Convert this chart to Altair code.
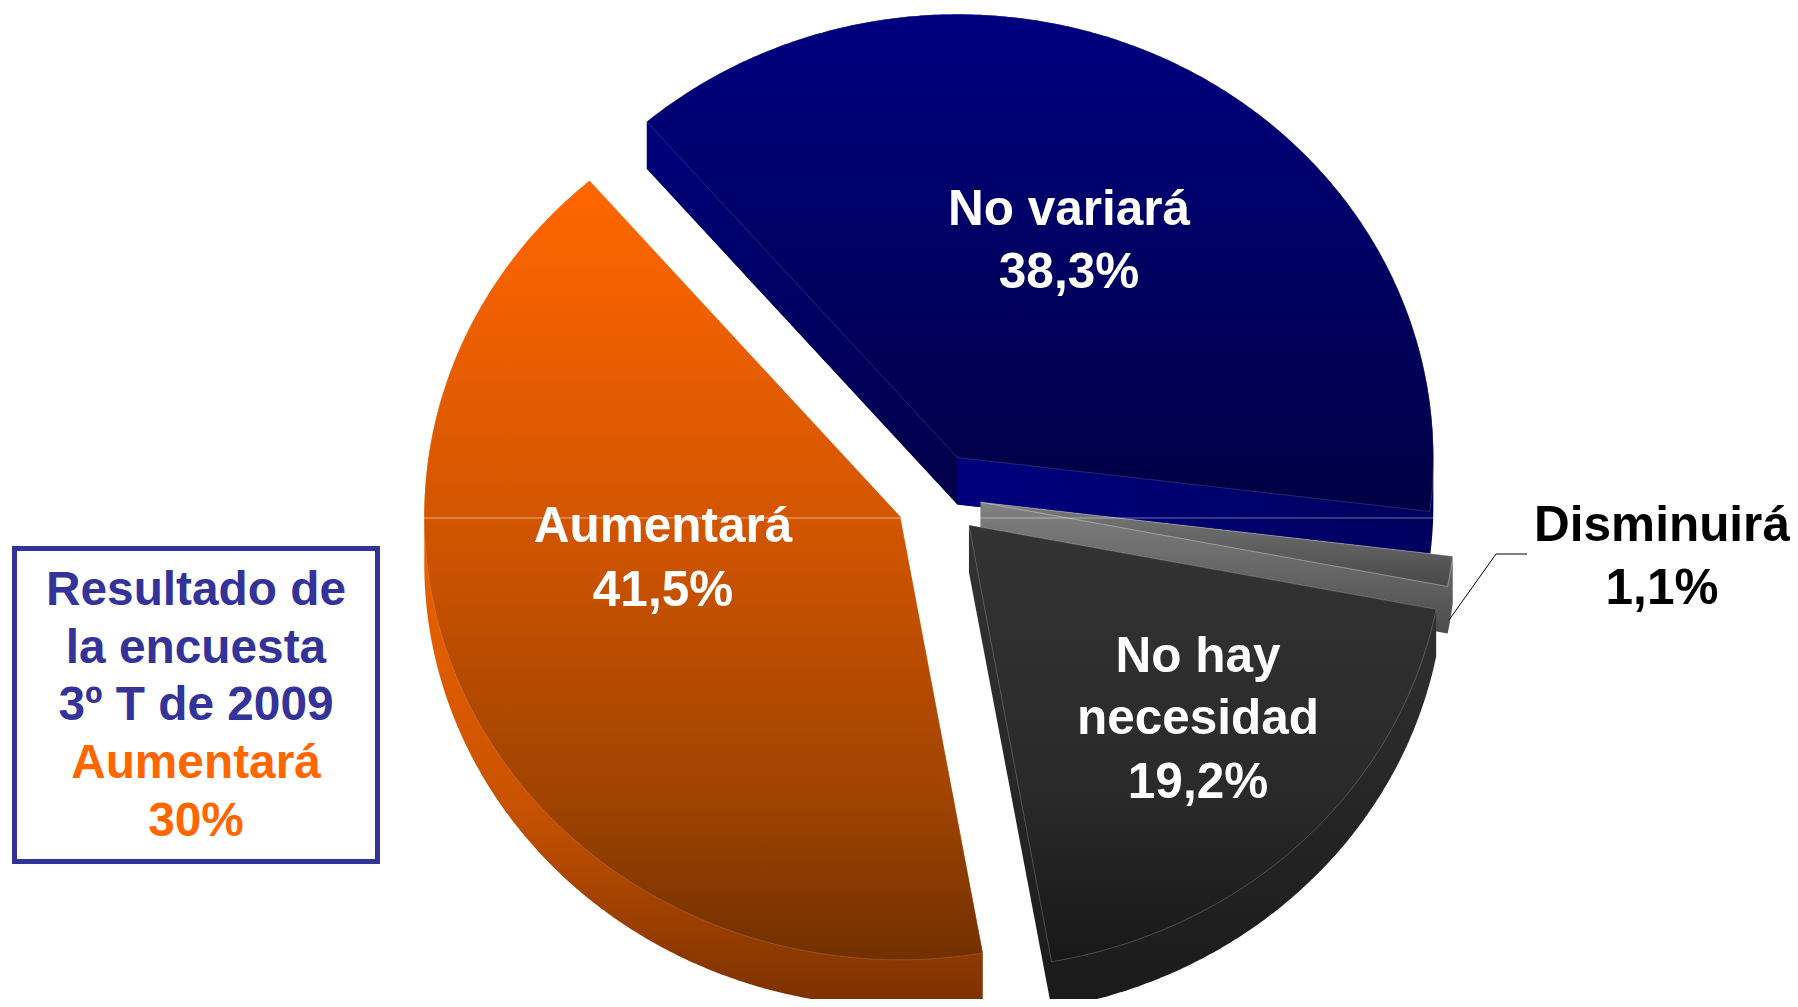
import numpy as np
import pandas as pd
import altair as alt

# --- values ---
labels = ["Aumentará", "No variará", "Disminuirá", "No hay necesidad"]
shares = [41.5, 38.3, 1.1, 19.2]
share_text = ["41,5%", "38,3%", "1,1%", "19,2%"]
box_lines = ["Resultado de", "la encuesta", "3º T de 2009", "Aumentará", "30%"]

# --- layout (page pixels) ---
W, H = 1782, 991
M = 8
k = 1798 / 1568
RX, RY, DEPTH = 415 * k, 386.5 * k, 41 * k
centers = [(785 * k, 450.5 * k), (835 * k, 399 * k), (855 * k, 438 * k), (845 * k, 458 * k)]
START_DEG = 170.0


def grad(stops, horizontal=False):
    return alt.Gradient(
        gradient="linear", x1=0, x2=1 if horizontal else 0, y1=0, y2=0 if horizontal else 1,
        stops=[alt.GradientStop(color=c, offset=o) for o, c in stops],
    )


top_fill = [
    grad([(0, "#ff6600"), (0.16, "#f06000"), (0.44, "#d25500"), (0.8, "#9e4300"), (1, "#723000")]),
    grad([(0, "#000080"), (1, "#000044")]),
    grad([(0, "#7a7a7a"), (1, "#484848")]),
    grad([(0, "#333333"), (0.6, "#2a2a2a"), (1, "#181818")]),
]
side_fill = [
    grad([(0, "#ff6e00"), (0.576, "#e05c00"), (0.757, "#c85200"), (0.83, "#b04800"), (1, "#7a3000")]),
    grad([(0, "#00006a"), (1, "#00005e")]),
    grad([(0, "#828282"), (1, "#4c4c4c")]),
    grad([(0, "#333333"), (0.3, "#2d2d2d"), (1, "#1a1a1a")]),
]
blue_left_face = grad([(0, "#00007c"), (1, "#000048")])
blue_right_face = grad([(0, "#00007e"), (1, "#00005e")], horizontal=True)
edge_opacity = [0.2, 0.22, 0.5, 0.3]


def hull(points):
    pts = sorted(set(points))

    def half(seq):
        out = []
        for p in seq:
            while len(out) >= 2 and (
                (out[-1][0] - out[-2][0]) * (p[1] - out[-2][1])
                - (out[-1][1] - out[-2][1]) * (p[0] - out[-2][0])
            ) <= 0:
                out.pop()
            out.append(p)
        return out[:-1]

    return half(pts) + half(pts[::-1])


x_scale = alt.Scale(domain=[0, W / RX], range=[0, W], nice=False, zero=False)
y_scale = alt.Scale(domain=[0, H / RY], range=[0, H], nice=False, zero=False)


def poly_layer(points, fill, edge=0.0):
    df = pd.DataFrame(points, columns=["x", "y"])
    df["i"] = range(len(df))
    style = dict(stroke="#ffffff", strokeWidth=0.7, strokeOpacity=edge) if edge else dict(strokeWidth=0, stroke=None)
    return alt.Chart(df).mark_line(fill=fill, clip=True, interpolate="linear-closed", **style).encode(
        x=alt.X("x:Q", scale=x_scale, axis=None),
        y=alt.Y("y:Q", scale=y_scale, axis=None),
        order="i:O",
    )


layers = []
total = sum(shares)
a0 = START_DEG
for i, s in enumerate(shares):
    a1 = a0 + s / total * 360
    th = np.radians(np.linspace(a0, a1, int((a1 - a0) * 2) + 2))
    cx, cy = (centers[i][0] - M) / RX, (centers[i][1] - M) / RY
    rim = [(float(cx + np.sin(t)), float(cy - np.cos(t))) for t in th]
    wedge = [(cx, cy)] + rim
    d = DEPTH / RY
    swept = hull(wedge + [(x, y + d) for x, y in wedge])
    layers.append(poly_layer(swept, side_fill[i]))
    if i == 1:
        for end, fill in ((rim[0], blue_left_face), (rim[-1], blue_right_face)):
            quad = [(cx, cy), end, (end[0], end[1] + d), (cx, cy + d)]
            layers.append(poly_layer(quad, fill))
    layers.append(poly_layer(wedge, top_fill[i], edge_opacity[i]))
    a0 = a1


def V(px, py):
    return dict(x=alt.value(px - M), y=alt.value(py - M))


def rule(x0, y0, x1, y1, color, width, opacity=1.0):
    return alt.Chart(pd.DataFrame({"a": [0]})).mark_rule(color=color, strokeWidth=width, opacity=opacity).encode(
        x=alt.value(x0 - M), x2=alt.value(x1 - M), y=alt.value(y0 - M), y2=alt.value(y1 - M)
    )


def text(s, px, py, color, size=49.5):
    return alt.Chart(pd.DataFrame({"t": [s]})).mark_text(
        font="Liberation Sans", fontWeight="bold", fontSize=size, color=color,
        align="center", baseline="alphabetic",
    ).encode(text="t:N", **V(px, py))


# thin light seam across the pie
layers.append(rule(424, 518, 900, 518, "#ffffff", 0.8, 0.65))
layers.append(rule(980, 518, 1433, 518, "#ffffff", 0.8, 0.55))

# leader line of the small slice
layers.append(rule(1449, 620, 1496, 554, "#000000", 1))
layers.append(rule(1496, 554, 1527, 554, "#000000", 1))

# pie labels
layers.append(text(labels[0], 663, 542, "#ffffff"))
layers.append(text(share_text[0], 663, 606, "#ffffff"))
layers.append(text(labels[1], 1069, 225, "#ffffff"))
layers.append(text(share_text[1], 1069, 288, "#ffffff"))
layers.append(text(labels[2], 1662, 541, "#000000"))
layers.append(text(share_text[2], 1662, 604, "#000000"))
hay, nec = " ".join(labels[3].split(" ")[:2]), labels[3].split(" ")[2]
layers.append(text(hay, 1198, 672, "#ffffff"))
layers.append(text(nec, 1198, 734, "#ffffff"))
layers.append(text(share_text[3], 1198, 798, "#ffffff"))

# result box
box = alt.Chart(pd.DataFrame({"a": [0]})).mark_rect(
    fill="#ffffff", stroke="#333399", strokeWidth=5
).encode(
    x=alt.value(14.5 - M), x2=alt.value(377.5 - M), y=alt.value(548.5 - M), y2=alt.value(861.5 - M)
)
layers.append(box)
box_colors = ["#333399", "#333399", "#333399", "#ff6600", "#ff6600"]
box_base = [605, 663, 720, 778, 836]
for line, col, b in zip(box_lines, box_colors, box_base):
    layers.append(text(line, 196, b, col, 47.8))

chart = (
    alt.layer(*layers)
    .resolve_scale(x="shared", y="shared")
    .properties(width=W, height=H, padding=0, background="#ffffff", autosize=alt.AutoSizeParams(type="none"))
    .configure_view(stroke=None)
)
chart.save("out.html", embed_options={"renderer": "svg", "actions": False})
